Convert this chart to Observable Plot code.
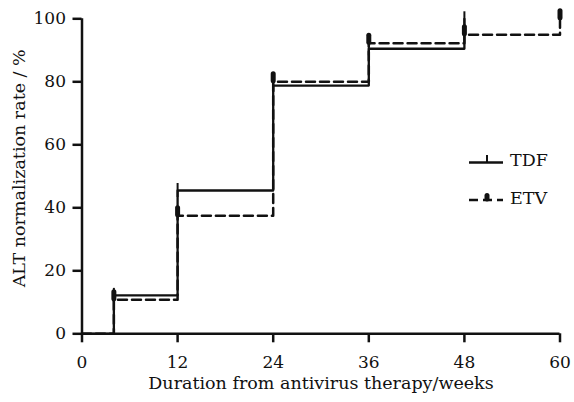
<!DOCTYPE html>
<html>
<head>
<meta charset="utf-8">
<script src="https://cdn.jsdelivr.net/npm/d3@7"></script>
<script src="https://cdn.jsdelivr.net/npm/@observablehq/plot@0.6"></script>
<style>
  html, body { margin: 0; padding: 0; background: #fff; }
  #chart { width: 574px; height: 402px; }
</style>
</head>
<body>
<div id="chart"></div>
<script>
// ---- data ----
const weeks = [0, 4, 12, 24, 36, 48, 60];
const tdfRate = [0, 12.2, 45.5, 78.8, 90.5, 100];        // TDF, follow-up ends at week 48
const etvRate = [0, 10.8, 37.5, 80.0, 92.2, 94.9, 100];  // ETV
const tdfCensorWeeks = [4, 12, 24, 36, 48];
const etvCensorWeeks = [4, 12, 24, 36, 48, 60];
const xTicks = [0, 12, 24, 36, 48, 60];
const yTicks = [0, 20, 40, 60, 80, 100];
const seriesNames = ["TDF", "ETV"];
const xLabel = "Duration from antivirus therapy/weeks";
const yLabel = "ALT normalization rate / %";

// ---- tables built from the arrays ----
const tdf = tdfRate.map((v, i) => ({week: weeks[i], rate: v}));
const etv = etvRate.map((v, i) => ({week: weeks[i], rate: v}));
const tdfCensor = tdfCensorWeeks.map(w => tdf.find(d => d.week === w));
const etvCensor = etvCensorWeeks.map(w => etv.find(d => d.week === w));

const ink = "#111";
const font = "'DejaVu Serif', serif";
const dash = "9,5";

const chart = Plot.plot({
  width: 574,
  height: 402,
  marginLeft: 81.5,
  marginRight: 14.5,
  marginTop: 18.3,
  marginBottom: 68.7,
  style: {fontFamily: font, fontSize: "17px", color: ink, background: "#fff"},
  x: {domain: [0, 60]},
  y: {domain: [0, 100]},
  marks: [
    Plot.axisX({ticks: xTicks, tickSize: 9, tickPadding: 13, strokeWidth: 2.5, label: null}),
    Plot.axisY({ticks: yTicks, tickSize: 9, tickPadding: 7, strokeWidth: 2.5, label: null}),
    Plot.ruleX([0], {stroke: ink, strokeWidth: 2.5}),
    Plot.ruleY([0], {stroke: ink, strokeWidth: 2.5}),
    Plot.line(etv, {x: "week", y: "rate", curve: "step-after", stroke: ink, strokeWidth: 2.5, strokeDasharray: dash}),
    Plot.line(tdf, {x: "week", y: "rate", curve: "step-after", stroke: ink, strokeWidth: 2.3}),
    Plot.ruleX(tdfCensor, {x: "week", y1: "rate", y2: "rate", insetTop: -7, insetBottom: -7, stroke: ink, strokeWidth: 2}),
    Plot.ruleX(etvCensor, {x: "week", y1: "rate", y2: "rate", insetTop: -3.5, insetBottom: -3.5, dy: -4, stroke: ink, strokeWidth: 5, strokeLinecap: "round"}),
    Plot.text([xLabel], {text: d => d, frameAnchor: "bottom", dy: 50, lineAnchor: "middle", textAnchor: "middle", fontSize: 17.5, fill: ink}),
    Plot.text([yLabel], {text: d => d, frameAnchor: "left", rotate: -90, dx: -63, dy: -8, lineAnchor: "middle", textAnchor: "middle", fontSize: 17.5, fill: ink})
  ]
});

// ---- legend (inside the same SVG) ----
const svg = d3.select(chart);
const lg = svg.append("g").attr("transform", "translate(469,0)");
const rows = [
  {name: seriesNames[0], y: 162.5, dashed: false},
  {name: seriesNames[1], y: 200, dashed: true}
];
rows.forEach(r => {
  lg.append("line").attr("x1", 0).attr("x2", 34).attr("y1", r.y).attr("y2", r.y)
    .attr("stroke", ink).attr("stroke-width", 2.5)
    .attr("stroke-dasharray", r.dashed ? dash : null);
  if (r.dashed) {
    lg.append("line").attr("x1", 18).attr("x2", 18).attr("y1", r.y - 4.5).attr("y2", r.y - 1)
      .attr("stroke", ink).attr("stroke-width", 5).attr("stroke-linecap", "round");
  } else {
    lg.append("line").attr("x1", 18).attr("x2", 18).attr("y1", r.y - 7.5).attr("y2", r.y)
      .attr("stroke", ink).attr("stroke-width", 2);
  }
  lg.append("text").attr("x", 41).attr("y", r.y - 2.5).attr("dy", "0.35em")
    .attr("text-anchor", "start")
    .attr("fill", ink).attr("font-family", font).attr("font-size", 17.5).text(r.name);
});

document.getElementById("chart").appendChild(chart);
</script>
</body>
</html>
